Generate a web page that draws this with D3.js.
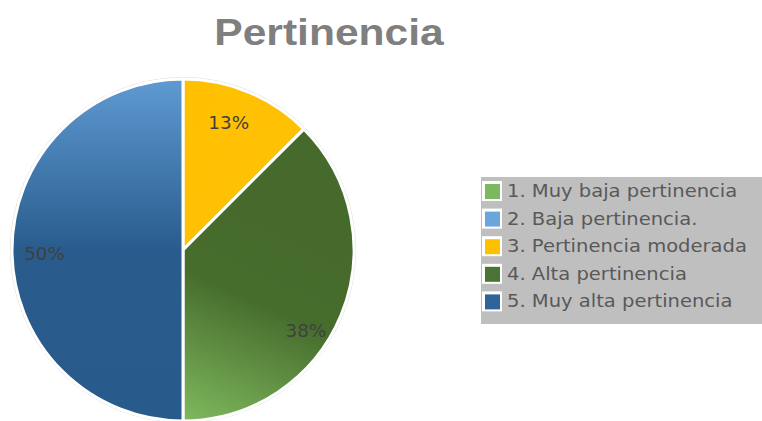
<!DOCTYPE html>
<html>
<head>
<meta charset="utf-8">
<script src="https://cdn.jsdelivr.net/npm/d3@7"></script>
<style>
  html, body { margin: 0; padding: 0; background: #fff; }
  svg { display: block; }
</style>
</head>
<body>
<div id="chart"></div>
<script>
'use strict';

var categories = [
  '1. Muy baja pertinencia',
  '2. Baja pertinencia.',
  '3. Pertinencia moderada',
  '4. Alta pertinencia',
  '5. Muy alta pertinencia'
];
var counts = [0, 0, 1, 3, 4];
var pctLabels = ['0%', '0%', '13%', '38%', '50%'];

var width = 762, height = 421;
var cx = 183, cy = 250, radius = 171;
var stretch = 1.15; // text in the original looks horizontally widened

var swatch = ['#7cb860', '#6aa6dc', '#ffc000', '#4a7432', '#2f6399'];

// where along each slice (0..1 of its sweep) and how far out the label sits
var labelSweep = [0.5, 0.5, 0.44, 0.58, 0.49];
var labelRadius = [0.8, 0.8, 0.79, 0.86, 0.81];

var svg = d3.select('#chart').append('svg')
    .attr('width', width)
    .attr('height', height);

var defs = svg.append('defs');

// slice gradients, coordinates relative to the pie centre
var grads = [
  { x1: 0, y1: -radius, x2: 0, y2: radius, stops: [['0%', '#84bf63'], ['100%', '#4c7a31']] },
  { x1: 0, y1: -radius, x2: 0, y2: radius, stops: [['0%', '#6ea8dc'], ['100%', '#2a5c8f']] },
  { x1: 0, y1: -radius, x2: radius, y2: -radius * 0.4, stops: [['0%', '#ffc000'], ['60%', '#ffc105'], ['100%', '#ffcc3a']] },
  { x1: radius * 0.55, y1: -radius * 0.1, x2: 10, y2: radius, stops: [['0%', '#456a2b'], ['35%', '#476d2d'], ['100%', '#7db75c']] },
  { x1: 0, y1: -radius, x2: 0, y2: radius, stops: [['0%', '#5f9ad2'], ['50%', '#295c8d'], ['100%', '#285a8b']] }
];

grads.forEach(function (g, i) {
  var lg = defs.append('linearGradient')
      .attr('id', 'g' + i)
      .attr('gradientUnits', 'userSpaceOnUse')
      .attr('x1', g.x1).attr('y1', g.y1)
      .attr('x2', g.x2).attr('y2', g.y2);
  g.stops.forEach(function (s) {
    lg.append('stop').attr('offset', s[0]).attr('stop-color', s[1]);
  });
});

// title
svg.append('text')
    .attr('transform', 'translate(329,45) scale(' + stretch + ',1)')
    .attr('text-anchor', 'middle')
    .style('font-family', '"Liberation Sans", Arial, sans-serif')
    .style('font-weight', 'bold')
    .style('font-size', '37px')
    .style('fill', '#7f7f7f')
    .text('Pertinencia');

var data = categories.map(function (c, i) {
  return { name: c, value: counts[i], label: pctLabels[i], index: i };
});

var pie = d3.pie()
    .sort(null)
    .value(function (d) { return d.value; });

var arc = d3.arc()
    .innerRadius(0)
    .outerRadius(radius);

var g = svg.append('g')
    .attr('transform', 'translate(' + cx + ',' + cy + ')');

// faint outer ring
g.append('circle')
    .attr('r', radius + 1.5)
    .style('fill', 'none')
    .style('stroke', '#d9d9d9')
    .style('stroke-width', 1);

var arcs = pie(data).filter(function (d) { return d.data.value > 0; });

g.selectAll('path.slice')
    .data(arcs)
    .enter()
    .append('path')
    .attr('class', 'slice')
    .attr('d', arc)
    .style('fill', function (d) { return 'url(#g' + d.data.index + ')'; })
    .style('stroke', '#fff')
    .style('stroke-width', 3);

// labels
g.selectAll('text.pct')
    .data(arcs)
    .enter()
    .append('text')
    .attr('class', 'pct')
    .attr('transform', function (d) {
      var i = d.data.index;
      var a = d.startAngle + (d.endAngle - d.startAngle) * labelSweep[i];
      var r = radius * labelRadius[i];
      return 'translate(' + (r * Math.sin(a)) + ',' + (-r * Math.cos(a)) + ') scale(1.08,1)';
    })
    .attr('dy', '0.35em')
    .attr('text-anchor', 'middle')
    .style('font-family', '"DejaVu Sans", sans-serif')
    .style('font-size', '17px')
    .style('fill', '#404040')
    .text(function (d) { return d.data.label; });

// legend
var legX = 481, legY = 177, legW = width - legX, legH = 147;
var rowH = 27.6;

var legend = svg.append('g')
    .attr('transform', 'translate(' + legX + ',' + legY + ')');

legend.append('rect')
    .attr('width', legW)
    .attr('height', legH)
    .style('fill', '#bfbfbf');

var y = d3.scaleBand()
    .domain(categories)
    .range([2, 2 + rowH * categories.length]);

var item = legend.selectAll('g.item')
    .data(data)
    .enter()
    .append('g')
    .attr('class', 'item')
    .attr('transform', function (d) { return 'translate(0,' + y(d.name) + ')'; });

item.append('rect')
    .attr('x', 1)
    .attr('y', 2)
    .attr('width', 20)
    .attr('height', 20)
    .style('fill', '#fff');

item.append('rect')
    .attr('x', 4)
    .attr('y', 5)
    .attr('width', 15)
    .attr('height', 15)
    .style('fill', function (d) { return swatch[d.index]; });

item.append('text')
    .attr('transform', 'translate(26,12) scale(' + stretch + ',1)')
    .attr('dy', '0.35em')
    .style('font-family', '"DejaVu Sans", sans-serif')
    .style('font-size', '17px')
    .style('fill', '#595959')
    .text(function (d) { return d.name; });
</script>
</body>
</html>
